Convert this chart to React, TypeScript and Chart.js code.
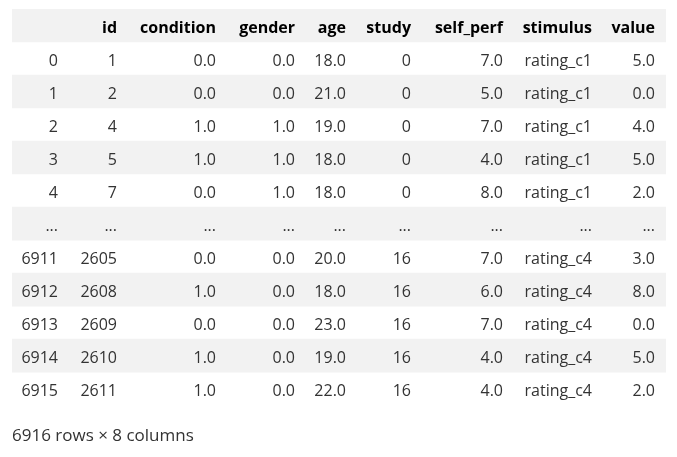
import React, { useEffect, useRef } from "react";
import { Chart, registerables } from "chart.js";

Chart.register(...registerables);

// ---- data ----
const columns = ["id", "condition", "gender", "age", "study", "self_perf", "stimulus", "value"];
const indexLabels = ["0", "1", "2", "3", "4", "...", "6911", "6912", "6913", "6914", "6915"];
const ids: (number | null)[] = [1, 2, 4, 5, 7, null, 2605, 2608, 2609, 2610, 2611];
const condition: (number | null)[] = [0, 0, 1, 1, 0, null, 0, 1, 0, 1, 1];
const gender: (number | null)[] = [0, 0, 1, 1, 1, null, 0, 0, 0, 0, 0];
const age: (number | null)[] = [18, 21, 19, 18, 18, null, 20, 18, 23, 19, 22];
const study: (number | null)[] = [0, 0, 0, 0, 0, null, 16, 16, 16, 16, 16];
const selfPerf: (number | null)[] = [7, 5, 7, 4, 8, null, 7, 6, 7, 4, 4];
const stimulus: (string | null)[] = [
  "rating_c1", "rating_c1", "rating_c1", "rating_c1", "rating_c1", null,
  "rating_c4", "rating_c4", "rating_c4", "rating_c4", "rating_c4",
];
const value: (number | null)[] = [5, 0, 4, 5, 2, null, 3, 8, 0, 5, 2];
const footer = "6916 rows × 8 columns";

// ---- layout / style ----
const TABLE_W = 654;
const COL_RIGHT = [46, 105, 204, 283, 334, 399, 491, 580, 643]; // index + 8 columns
const FONT = '"Open Sans", "Noto Sans", sans-serif';
const STRIPE = "#f2f2f2";
const BODY_COLOR = "#333333";
const HEAD_COLOR = "#000000";

const int = (v: number | null) => (v === null ? "..." : String(v));
const flt = (v: number | null) => (v === null ? "..." : v.toFixed(1));
const str = (v: string | null) => (v === null ? "..." : v);

function bodyCells(i: number): string[] {
  return [
    indexLabels[i],
    int(ids[i]),
    flt(condition[i]),
    flt(gender[i]),
    flt(age[i]),
    int(study[i]),
    flt(selfPerf[i]),
    str(stimulus[i]),
    flt(value[i]),
  ];
}

export default function App() {
  const ref = useRef<HTMLCanvasElement | null>(null);

  useEffect(() => {
    if (!ref.current) return;
    const rowLabels = ["header", ...indexLabels];
    const stripes = rowLabels.map((_, r) => (r === 0 || r % 2 === 0 ? [0, TABLE_W] : null));

    const cellPlugin = {
      id: "cells",
      afterDatasetsDraw(chart: any) {
        const ctx = chart.ctx as CanvasRenderingContext2D;
        const xs = chart.scales.x;
        const ys = chart.scales.y;
        ctx.save();
        ctx.textAlign = "right";
        ctx.textBaseline = "alphabetic";
        for (let r = 0; r < rowLabels.length; r++) {
          const y = ys.getPixelForValue(r) + 7.5;
          let cells: string[];
          if (r === 0) {
            cells = ["", ...columns];
            ctx.font = `bold 16px ${FONT}`;
            ctx.fillStyle = HEAD_COLOR;
          } else {
            cells = bodyCells(r - 1);
            ctx.font = `16px ${FONT}`;
            ctx.fillStyle = BODY_COLOR;
          }
          cells.forEach((t, c) => {
            ctx.fillText(t, xs.getPixelForValue(COL_RIGHT[c]), y);
          });
        }
        ctx.restore();
      },
    };

    const chart = new Chart(ref.current, {
      type: "bar",
      data: {
        labels: rowLabels,
        datasets: [
          {
            data: stripes as any,
            backgroundColor: STRIPE,
            borderWidth: 0,
            barPercentage: 1,
            categoryPercentage: 1,
          },
        ],
      },
      options: {
        indexAxis: "y",
        animation: false,
        responsive: false,
        maintainAspectRatio: false,
        layout: { padding: { left: 12, right: 11, top: 9, bottom: 0 } },
        scales: {
          x: { type: "linear", min: 0, max: TABLE_W, display: false },
          y: { type: "category", display: false, offset: true },
        },
        plugins: {
          legend: { display: false },
          tooltip: { enabled: false },
          title: {
            display: true,
            text: footer,
            position: "bottom",
            align: "start",
            color: BODY_COLOR,
            font: { family: FONT, size: 17, weight: "normal" },
            padding: { top: 20.5, bottom: 11 },
          },
        },
      },
      plugins: [cellPlugin],
    });
    return () => chart.destroy();
  }, []);

  return (
    <div style={{ position: "absolute", left: 0, top: 0, width: 677, height: 457, background: "#fff" }}>
      <canvas ref={ref} width={677} height={457} />
    </div>
  );
}
